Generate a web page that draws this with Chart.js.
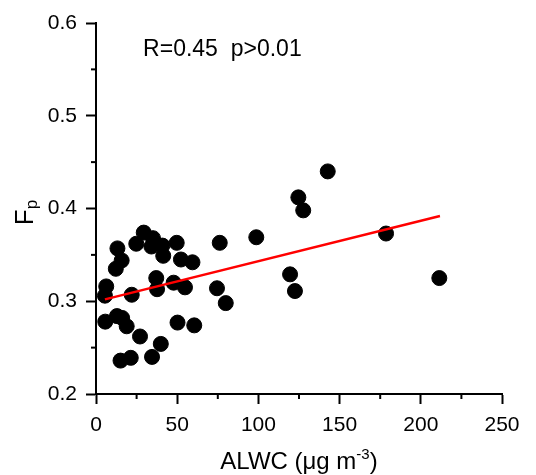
<!DOCTYPE html>
<html>
<head>
<meta charset="utf-8">
<script src="https://cdn.jsdelivr.net/npm/chart.js@4.4.1/dist/chart.umd.min.js"></script>
<style>
  html, body { margin: 0; padding: 0; background: #fff; }
  #wrap { width: 536px; height: 475px; }
</style>
</head>
<body>
<div id="wrap"><canvas id="c" width="536" height="475"></canvas></div>
<script>
// ALWC (ug m-3) vs Fp
const alwc = [29.4, 35.1, 24.8, 13.2, 34.1, 40.9, 49.7, 41.4, 15.8, 12.2,
              52.3, 59.4, 76.2, 98.7, 6.3, 5.5, 22.0, 37.1, 37.6, 47.8,
              54.8, 74.5, 79.9, 5.7, 12.9, 16.1, 18.9, 27.1, 50.2, 60.5,
              39.9, 34.5, 15.1, 21.4, 142.7, 124.6, 127.6, 178.6, 119.5, 122.5,
              211.4];
const fp = [0.374, 0.368, 0.362, 0.357, 0.359, 0.360, 0.363, 0.349, 0.344, 0.335,
            0.345, 0.342, 0.363, 0.369, 0.316, 0.306, 0.307, 0.325, 0.313, 0.320,
            0.315, 0.314, 0.298, 0.278, 0.284, 0.282, 0.273, 0.262, 0.277, 0.274,
            0.254, 0.240, 0.236, 0.239, 0.440, 0.412, 0.398, 0.373, 0.329, 0.311,
            0.325];

// linear fit line end points
const fitX = [5.5, 211.8];
const fitY = [0.302, 0.392];

const xMinor = [25, 75, 125, 175, 225];
const yMinor = [0.25, 0.35, 0.45, 0.55];

const statText = 'R=0.45  p>0.01';
const FONT = '"Liberation Sans", Arial, Helvetica, sans-serif';

const extras = {
    id: 'extras',
    afterDraw(chart) {
        const { ctx, scales: { x, y }, chartArea } = chart;
        ctx.save();
        ctx.strokeStyle = '#000';
        ctx.lineWidth = 2;
        // minor ticks
        xMinor.forEach(v => {
            const px = x.getPixelForValue(v);
            ctx.beginPath();
            ctx.moveTo(px, chartArea.bottom);
            ctx.lineTo(px, chartArea.bottom + 5);
            ctx.stroke();
        });
        yMinor.forEach(v => {
            const py = y.getPixelForValue(v);
            ctx.beginPath();
            ctx.moveTo(chartArea.left, py);
            ctx.lineTo(chartArea.left - 5, py);
            ctx.stroke();
        });

        ctx.fillStyle = '#000';
        // R / p annotation
        ctx.font = '23px ' + FONT;
        ctx.textBaseline = 'middle';
        ctx.textAlign = 'left';
        ctx.fillText(statText, x.getPixelForValue(29), y.getPixelForValue(0.571));

        // x title with superscript
        ctx.textBaseline = 'alphabetic';
        const main = 'ALWC (\u03bcg m', sup = '-3', close = ')';
        ctx.font = '24px ' + FONT;
        const w1 = ctx.measureText(main).width;
        const w3 = ctx.measureText(close).width;
        ctx.font = '15px ' + FONT;
        const w2 = ctx.measureText(sup).width;
        const cx = (chartArea.left + chartArea.right) / 2;
        let sx = cx - (w1 + w2 + w3) / 2;
        const by = 469;
        ctx.font = '24px ' + FONT;
        ctx.fillText(main, sx, by);
        ctx.font = '15px ' + FONT;
        ctx.fillText(sup, sx + w1, by - 10);
        ctx.font = '24px ' + FONT;
        ctx.fillText(close, sx + w1 + w2, by);

        // y title F with subscript p
        ctx.translate(33, (chartArea.top + chartArea.bottom) / 2 + 4);
        ctx.rotate(-Math.PI / 2);
        ctx.font = '26px ' + FONT;
        const fw = ctx.measureText('F').width;
        ctx.font = '17px ' + FONT;
        const pw = ctx.measureText('p').width;
        const lx = -(fw + pw) / 2;
        ctx.font = '26px ' + FONT;
        ctx.fillText('F', lx, 0);
        ctx.font = '17px ' + FONT;
        ctx.fillText('p', lx + fw, 4);
        ctx.restore();
    }
};

new Chart(document.getElementById('c'), {
    type: 'scatter',
    data: {
        datasets: [
            {
                label: 'Fp',
                data: alwc.map((v, i) => ({ x: v, y: fp[i] })),
                backgroundColor: '#000',
                borderColor: '#000',
                pointRadius: 7.5,
                pointHoverRadius: 7.5,
                order: 2
            },
            {
                label: 'fit',
                type: 'line',
                data: fitX.map((v, i) => ({ x: v, y: fitY[i] })),
                borderColor: '#ff0000',
                borderWidth: 2.5,
                pointRadius: 0,
                fill: false,
                order: 1
            }
        ]
    },
    options: {
        responsive: false,
        animation: false,
        events: [],
        layout: { padding: { left: 0, right: 34, top: 23, bottom: 0 } },
        plugins: { legend: { display: false }, tooltip: { enabled: false } },
        scales: {
            x: {
                type: 'linear',
                min: 0, max: 250,
                afterFit: s => { s.height = 81; },
                border: { display: true, color: '#000', width: 2 },
                grid: { drawOnChartArea: false, drawTicks: true, tickLength: 10, tickWidth: 2, tickColor: '#000' },
                ticks: { stepSize: 50, color: '#000', padding: 9, font: { size: 21, family: FONT } },
                title: { display: false }
            },
            y: {
                type: 'linear',
                min: 0.2, max: 0.6,
                afterFit: s => { s.width = 96; },
                border: { display: true, color: '#000', width: 2 },
                grid: { drawOnChartArea: false, drawTicks: true, tickLength: 10, tickWidth: 2, tickColor: '#000' },
                ticks: { stepSize: 0.1, color: '#000', padding: 9, font: { size: 21, family: FONT },
                         callback: v => v.toFixed(1) },
                title: { display: false }
            }
        }
    },
    plugins: [extras]
});
</script>
</body>
</html>
